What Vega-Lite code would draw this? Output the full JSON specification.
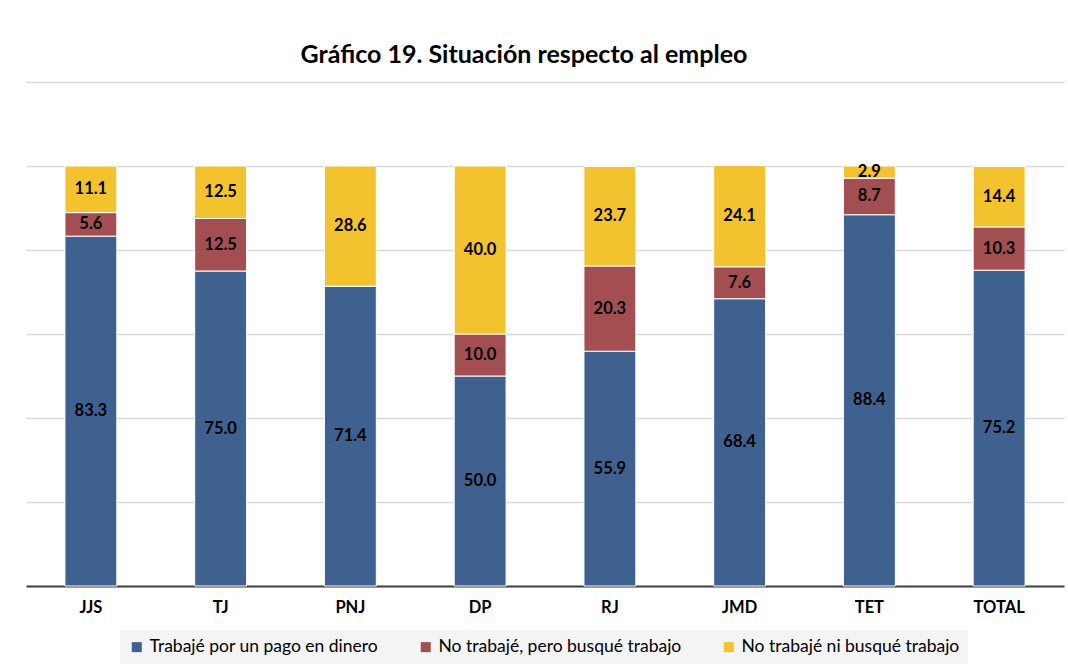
{
  "$schema": "https://vega.github.io/schema/vega-lite/v6.json",
  "autosize": "none",
  "width": 1038,
  "height": 504,
  "padding": {"left": 26, "top": 82, "right": 4, "bottom": 82},
  "background": "white",
  "config": {"view": {"stroke": null}},
  "title": {
    "text": "Gráfico 19. Situación respecto al empleo",
    "font": "Lato",
    "fontSize": 25,
    "fontWeight": "bold",
    "color": "#000000",
    "anchor": "middle",
    "dx": -21,
    "offset": 14
  },
  "data": {
    "values": [
      {"grupo": "JJS", "situacion": "Trabajé por un pago en dinero", "orden": 1, "valor": 83.3},
      {"grupo": "JJS", "situacion": "No trabajé, pero busqué trabajo", "orden": 2, "valor": 5.6},
      {"grupo": "JJS", "situacion": "No trabajé ni busqué trabajo", "orden": 3, "valor": 11.1},
      {"grupo": "TJ", "situacion": "Trabajé por un pago en dinero", "orden": 1, "valor": 75.0},
      {"grupo": "TJ", "situacion": "No trabajé, pero busqué trabajo", "orden": 2, "valor": 12.5},
      {"grupo": "TJ", "situacion": "No trabajé ni busqué trabajo", "orden": 3, "valor": 12.5},
      {"grupo": "PNJ", "situacion": "Trabajé por un pago en dinero", "orden": 1, "valor": 71.4},
      {"grupo": "PNJ", "situacion": "No trabajé, pero busqué trabajo", "orden": 2, "valor": 0},
      {"grupo": "PNJ", "situacion": "No trabajé ni busqué trabajo", "orden": 3, "valor": 28.6},
      {"grupo": "DP", "situacion": "Trabajé por un pago en dinero", "orden": 1, "valor": 50.0},
      {"grupo": "DP", "situacion": "No trabajé, pero busqué trabajo", "orden": 2, "valor": 10.0},
      {"grupo": "DP", "situacion": "No trabajé ni busqué trabajo", "orden": 3, "valor": 40.0},
      {"grupo": "RJ", "situacion": "Trabajé por un pago en dinero", "orden": 1, "valor": 55.9},
      {"grupo": "RJ", "situacion": "No trabajé, pero busqué trabajo", "orden": 2, "valor": 20.3},
      {"grupo": "RJ", "situacion": "No trabajé ni busqué trabajo", "orden": 3, "valor": 23.7},
      {"grupo": "JMD", "situacion": "Trabajé por un pago en dinero", "orden": 1, "valor": 68.4},
      {"grupo": "JMD", "situacion": "No trabajé, pero busqué trabajo", "orden": 2, "valor": 7.6},
      {"grupo": "JMD", "situacion": "No trabajé ni busqué trabajo", "orden": 3, "valor": 24.1},
      {"grupo": "TET", "situacion": "Trabajé por un pago en dinero", "orden": 1, "valor": 88.4},
      {"grupo": "TET", "situacion": "No trabajé, pero busqué trabajo", "orden": 2, "valor": 8.7},
      {"grupo": "TET", "situacion": "No trabajé ni busqué trabajo", "orden": 3, "valor": 2.9},
      {"grupo": "TOTAL", "situacion": "Trabajé por un pago en dinero", "orden": 1, "valor": 75.2},
      {"grupo": "TOTAL", "situacion": "No trabajé, pero busqué trabajo", "orden": 2, "valor": 10.3},
      {"grupo": "TOTAL", "situacion": "No trabajé ni busqué trabajo", "orden": 3, "valor": 14.4}
    ]
  },
  "transform": [
    {"stack": "valor", "groupby": ["grupo"], "sort": [{"field": "orden", "order": "ascending"}], "as": ["v0", "v1"]},
    {"calculate": "(datum.v0 + datum.v1) / 2", "as": "vmid"}
  ],
  "encoding": {
    "x": {
      "field": "grupo",
      "type": "nominal",
      "sort": ["JJS", "TJ", "PNJ", "DP", "RJ", "JMD", "TET", "TOTAL"],
      "scale": {"paddingInner": 0.6, "paddingOuter": 0.3},
      "axis": {
        "title": null,
        "labelAngle": 0,
        "labelFont": "Lato",
        "labelFontSize": 16.5,
        "labelFontWeight": "bold",
        "labelColor": "#000000",
        "labelPadding": 13,
        "ticks": false,
        "domainColor": "#404040",
        "domainWidth": 2,
        "grid": false
      }
    }
  },
  "layer": [
    {
      "mark": {"type": "bar", "stroke": "#ffffff", "strokeWidth": 1},
      "encoding": {
        "y": {
          "field": "v0",
          "type": "quantitative",
          "scale": {"domain": [0, 120], "nice": false},
          "axis": {
            "title": null,
            "labels": false,
            "ticks": false,
            "domain": false,
            "grid": true,
            "gridColor": "#d9d9d9",
            "gridWidth": 1.5,
            "values": [0, 20, 40, 60, 80, 100, 120]
          }
        },
        "y2": {"field": "v1"},
        "color": {
          "field": "situacion",
          "type": "nominal",
          "sort": ["Trabajé por un pago en dinero", "No trabajé, pero busqué trabajo", "No trabajé ni busqué trabajo"],
          "scale": {
            "domain": ["Trabajé por un pago en dinero", "No trabajé, pero busqué trabajo", "No trabajé ni busqué trabajo"],
            "range": ["#3e6190", "#a34f52", "#f3c22f"]
          },
          "legend": {
            "title": null,
            "orient": "none",
            "legendX": 94,
            "legendY": 548,
            "direction": "horizontal",
            "symbolType": "square",
            "symbolSize": 100,
            "symbolStrokeWidth": 0,
            "labelFont": "Lato",
            "labelFontSize": 17.5,
            "labelColor": "#000000",
            "labelLimit": 400,
            "columnPadding": 38,
            "fillColor": "#f4f4f4",
            "padding": 8
          }
        }
      }
    },
    {
      "transform": [{"filter": "datum.valor > 0"}],
      "mark": {"type": "text", "font": "Lato", "fontSize": 16.5, "fontWeight": "bold", "color": "#000000", "baseline": "middle"},
      "encoding": {
        "y": {"field": "vmid", "type": "quantitative"},
        "text": {"field": "valor", "type": "quantitative", "format": ".1f"}
      }
    }
  ]
}
